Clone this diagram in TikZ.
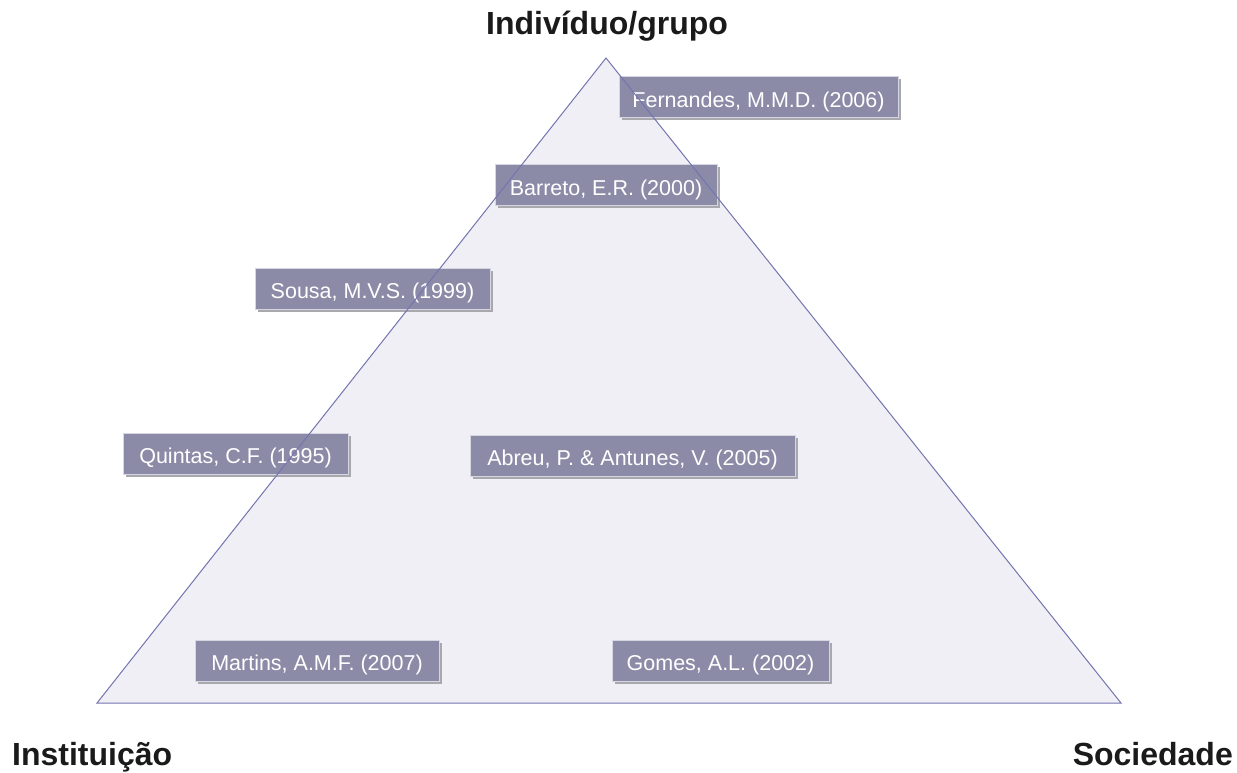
\documentclass[tikz,border=0pt]{standalone}
\usepackage{fontspec}
\setmainfont{Liberation Sans}
\usetikzlibrary{shadows}
\definecolor{triFill}{HTML}{EFEFF5}
\definecolor{triLine}{HTML}{7474B0}
\definecolor{boxFill}{HTML}{8B8BA8}
\definecolor{boxEdge}{HTML}{D6D6E0}
\definecolor{boxShade}{HTML}{A8A8AE}
\definecolor{capText}{HTML}{1A1A1A}
\tikzset{
  author/.style={rectangle, fill=boxFill, draw=boxEdge, line width=1pt,
    minimum height=41pt, inner sep=0pt, text=white,
    font=\fontsize{21.5}{24}\selectfont, text height=21pt, text depth=1pt,
    drop shadow={shadow xshift=2.5pt, shadow yshift=-2.5pt, fill=boxShade, opacity=1}},
  pole/.style={font=\fontsize{32}{36}\selectfont\bfseries, text=capText, inner sep=0pt}
}
\begin{document}
\begin{tikzpicture}[x=1pt,y=-1pt]
  \useasboundingbox (0,0) rectangle (1237,773);
  % corners of the triangle
  \coordinate (top) at (606,58);
  \coordinate (bl) at (97,703);
  \coordinate (br) at (1121,703);
  \fill[triFill] (top) -- (bl) -- (br) -- cycle;

  % authors placed inside the triangle
  \node[author, minimum width=279pt] (fernandes) at (758.5,97.5) {Fernandes, M.M.D. (2006)};
  \node[author, minimum width=222pt] (barreto) at (606,185) {Barreto, E.R. (2000)};
  \node[author, minimum width=235pt] (sousa) at (372.5,288.5) {Sousa, M.V.S. (1999)};
  \node[author, minimum width=225pt] (quintas) at (235.5,453.5) {Quintas, C.F. (1995)};
  \node[author, minimum width=325pt] (abreu) at (632.5,455.5) {Abreu, P. \& Antunes, V. (2005)};
  \node[author, minimum width=244pt] (martins) at (317,660.5) {Martins, A.M.F. (2007)};
  \node[author, minimum width=217pt] (gomes) at (720.5,660.5) {Gomes, A.L. (2002)};

  % outline of the triangle on top
  \draw[triLine, line width=1pt, line join=miter] (top) -- (bl) -- (br) -- cycle;

  % poles
  \node[pole, anchor=base] (indiv) at (607,35) {Indivíduo/grupo};
  \node[pole, anchor=base west] (inst) at (12,765) {Instituição};
  \node[pole, anchor=base east] (soc) at (1233,765) {Sociedade};
\end{tikzpicture}
\end{document}
